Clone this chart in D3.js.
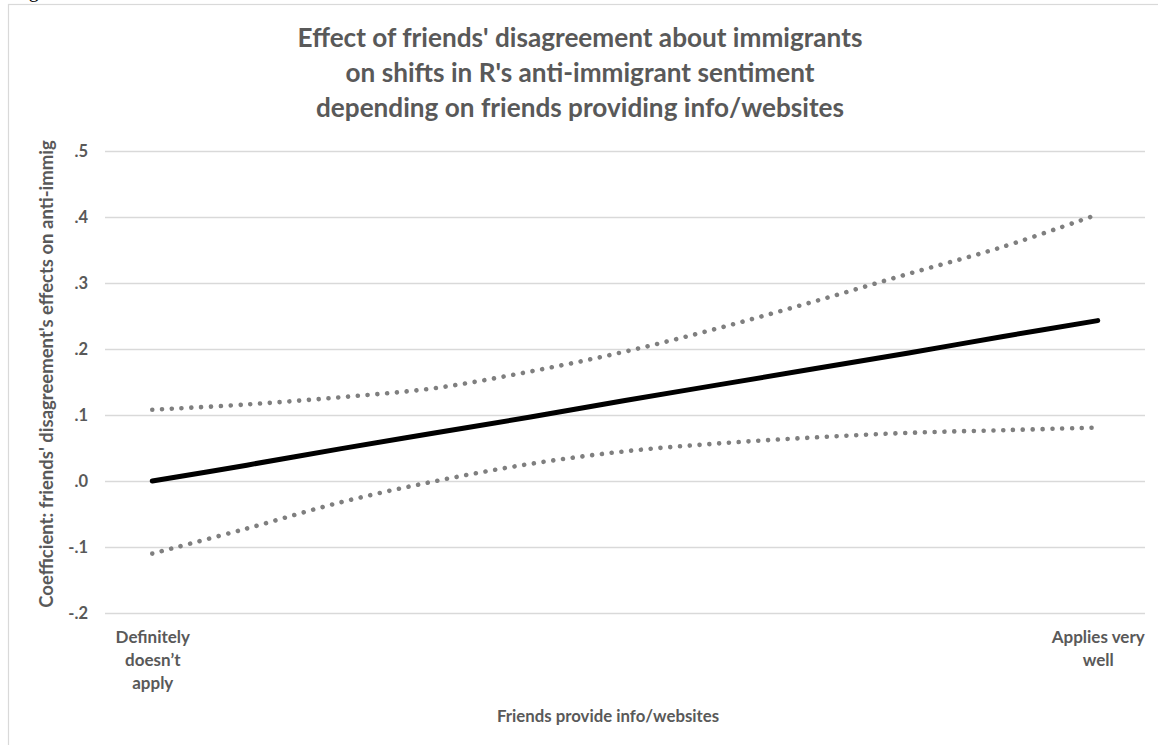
<!DOCTYPE html>
<html>
<head>
<meta charset="utf-8">
<script src="https://cdn.jsdelivr.net/npm/d3@7"></script>
<style>
  body { margin: 0; background: #fff; }
  svg { display: block; }
  text { font-family: Lato, "Open Sans", sans-serif; font-weight: 700; fill: #595959; }
</style>
</head>
<body>
<svg id="chart" width="1158" height="745"></svg>
<script>
// ---- data ----
const titleLines = [
  "Effect of friends' disagreement about immigrants",
  "on shifts in R's anti-immigrant sentiment",
  "depending on friends providing info/websites"
];
const yAxisTitle = "Coefficient: friends' disagreement's effects on anti-immig";
const xAxisTitle = "Friends provide info/websites";
const captionAbove = "Figure";

// 11-step scale of the moderator; only the end points carry labels
const categories = [
  "Definitely\ndoesn’t\napply", "", "", "", "", "", "", "", "", "", "Applies very\nwell"
];
const coefficient = [0.000, 0.024, 0.049, 0.073, 0.097, 0.122, 0.146, 0.170, 0.194, 0.219, 0.243];
const upperBound  = [0.108, 0.116, 0.127, 0.141, 0.166, 0.196, 0.232, 0.272, 0.314, 0.355, 0.404];
const lowerBound  = [-0.110, -0.072, -0.032, 0.000, 0.026, 0.045, 0.057, 0.066, 0.073, 0.077, 0.081];

const yTicks      = [-0.2, -0.1, 0.0, 0.1, 0.2, 0.3, 0.4, 0.5];
const yTickLabels = ["-.2", "-.1", ".0", ".1", ".2", ".3", ".4", ".5"];

// ---- layout ----
const svg = d3.select("#chart");
const plot = { left: 105, right: 1145, top: 151, bottom: 613 };

const x = d3.scalePoint()
  .domain(d3.range(categories.length))
  .range([plot.left, plot.right])
  .padding(0.5);

const y = d3.scaleLinear()
  .domain([d3.min(yTicks), d3.max(yTicks)])
  .range([plot.bottom, plot.top]);

// bottom of the caption line sitting above the chart frame
svg.append("text")
  .attr("x", 12)
  .attr("y", -3)
  .style("font-family", "'Liberation Serif', serif")
  .style("font-weight", "400")
  .style("font-size", "20px")
  .attr("fill", "#000")
  .style("fill", "#000")
  .text(captionAbove);

// chart frame (runs past the right and bottom edges)
svg.append("rect")
  .attr("x", 8.5).attr("y", 4.5)
  .attr("width", 1200).attr("height", 800)
  .attr("fill", "#fff")
  .attr("stroke", "#d9d9d9")
  .attr("stroke-width", 1.2);

// title
const title = svg.append("g").attr("class", "title");
title.selectAll("text")
  .data(titleLines)
  .join("text")
  .attr("x", 580)
  .attr("y", (d, i) => 47 + i * 35)
  .attr("text-anchor", "middle")
  .style("font-size", "24px")
  .text(d => d);
// size the title so the first line spans its intended width
{
  const first = title.select("text").node();
  const w = first.getComputedTextLength();
  const size = 24 * 565 / w;
  title.selectAll("text").style("font-size", size + "px");
}

// gridlines + y axis labels
const yAxis = d3.axisLeft(y)
  .tickValues(yTicks)
  .tickFormat((d, i) => yTickLabels[i])
  .tickSize(-(plot.right - plot.left))
  .tickPadding(17);

const gy = svg.append("g")
  .attr("transform", `translate(${plot.left},0)`)
  .call(yAxis);
gy.select(".domain").remove();
gy.selectAll(".tick line")
  .attr("stroke", "#d9d9d9")
  .attr("stroke-width", 1.3);
gy.selectAll(".tick text")
  .style("font-size", "16.5px")
  .style("font-family", "Lato, sans-serif")
  .attr("fill", "#595959");

// x axis category labels
const xAxis = d3.axisBottom(x).tickSize(0).tickFormat(() => "");
const gx = svg.append("g")
  .attr("transform", `translate(0,${plot.bottom})`)
  .call(xAxis);
gx.select(".domain").remove();
gx.selectAll(".tick").each(function (d) {
  const lines = categories[d] ? categories[d].split("\n") : [];
  const t = d3.select(this).select("text")
    .attr("y", 0).attr("dy", null)
    .style("font-size", "17px")
    .style("font-family", "Lato, sans-serif")
    .attr("fill", "#595959");
  t.selectAll("tspan")
    .data(lines)
    .join("tspan")
    .attr("x", 0)
    .attr("y", (l, i) => 30 + i * 23)
    .text(l => l);
});

// axis titles
svg.append("text")
  .attr("transform", `translate(53,374) rotate(-90)`)
  .attr("text-anchor", "middle")
  .style("font-size", "18.5px")
  .text(yAxisTitle);

svg.append("text")
  .attr("x", 608)
  .attr("y", 722)
  .attr("text-anchor", "middle")
  .style("font-size", "16.8px")
  .text(xAxisTitle);

// series
const line = d3.line()
  .x((d, i) => x(i))
  .y(d => y(d))
  .curve(d3.curveCatmullRom.alpha(0.5));

const dotted = { stroke: "#7f7f7f", width: 4.6, dash: "0.01 9.8" };

[upperBound, lowerBound].forEach(series => {
  svg.append("path")
    .datum(series)
    .attr("d", line)
    .attr("fill", "none")
    .attr("stroke", dotted.stroke)
    .attr("stroke-width", dotted.width)
    .attr("stroke-linecap", "round")
    .attr("stroke-dasharray", dotted.dash);
});

svg.append("path")
  .datum(coefficient)
  .attr("d", line)
  .attr("fill", "none")
  .attr("stroke", "#000")
  .attr("stroke-width", 5)
  .attr("stroke-linecap", "round");
</script>
</body>
</html>
